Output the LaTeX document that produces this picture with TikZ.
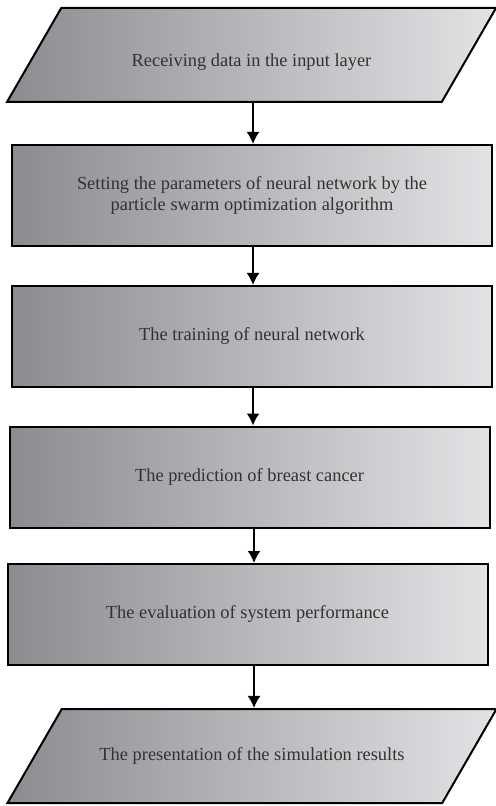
\documentclass[tikz,border=0pt]{standalone}
\usepackage{fontspec}
\setmainfont{Liberation Serif}
\usetikzlibrary{shapes.geometric}
\usetikzlibrary{arrows.meta}
\definecolor{shadeleft}{RGB}{138,140,143}
\definecolor{shaderight}{RGB}{226,227,229}
\definecolor{txtgray}{RGB}{50,50,50}
\tikzset{
  stage/.style = {draw = black, line width = 1pt, left color = shadeleft, right color = shaderight,
    text = txtgray, font = \fontsize{9.2}{10.4}\selectfont, align = center, inner sep = 0pt},
  iobox/.style = {stage, trapezium, trapezium left angle = 60, trapezium right angle = 120,
    trapezium stretches body, text height = 6.5pt, text depth = 2pt, inner ysep = 19.25pt,
    minimum width = 244.5pt},
  stepbox/.style = {stage, rectangle, minimum width = 240pt, minimum height = 50.5pt},
  flow/.style = {-{Latex[length = 6pt, width = 6.5pt]}, line width = 0.9pt}
}
\begin{document}
\begin{tikzpicture} [x = 0.5pt, y = -0.5pt]
\useasboundingbox (0, 0) rectangle (495, 806);
\node[iobox, text height = 13.5pt, inner ysep = 15.75pt] (input) at (251.5, 55){Receiving data in the input layer};
\node[stepbox] (pso) at (252, 195.5){Setting the parameters of neural network by the\\ particle swarm optimization algorithm};
\node[stepbox] (train) at (252, 336.5){The training of neural network};
\node[stepbox] (predict) at (249.5, 477){The prediction of breast cancer};
\node[stepbox] (evaluate) at (247.5, 614.5){The evaluation of system performance};
\node[iobox] (output) at (252, 756){The presentation of the simulation results};
\draw[flow] (input.south -| 253, 0) -- (pso.north -| 253, 0);
\draw[flow] (pso.south -| 253, 0) -- (train.north -| 253, 0);
\draw[flow] (train.south -| 253, 0) -- (predict.north -| 253, 0);
\draw[flow] (predict.south -| 254, 0) -- (evaluate.north -| 254, 0);
\draw[flow] (evaluate.south -| 254, 0) -- (output.north -| 254, 0);
\end{tikzpicture}
\end{document}
